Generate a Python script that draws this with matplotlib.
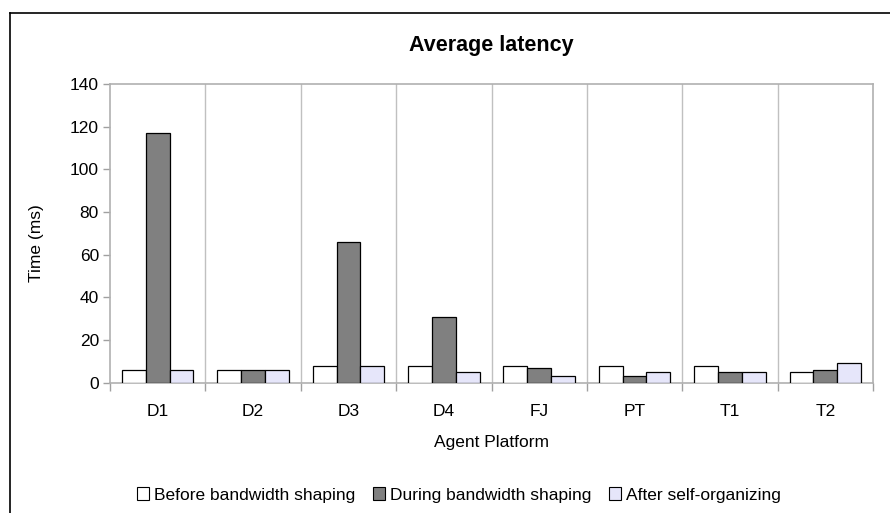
import matplotlib
matplotlib.use("Agg")
import matplotlib.pyplot as plt
import numpy as np
from matplotlib.lines import Line2D

plt.rcParams['font.family'] = ['Liberation Sans', 'DejaVu Sans']

platforms = ["D1", "D2", "D3", "D4", "FJ", "PT", "T1", "T2"]
before = [6, 6, 8, 8, 8, 8, 8, 5]
during = [117, 6, 66, 31, 7, 3, 5, 6]
after = [6, 6, 8, 5, 3, 5, 5, 9]
series_names = ["Before bandwidth shaping", "During bandwidth shaping", "After self-organizing"]
series_colors = ["#FFFFFF", "#808080", "#E6E6FA"]
y_ticks = [0, 20, 40, 60, 80, 100, 120, 140]

W, H = 890, 513
FS = 12.5
fig = plt.figure(figsize=(W / 100, H / 100), dpi=100)
ax = fig.add_axes([110 / W, 1 - 382.7 / H, (873 - 110) / W, (382.7 - 84) / H])

x = np.arange(len(platforms))
bw = 0.25
for i, (vals, col, name) in enumerate(zip([before, during, after], series_colors, series_names)):
    ax.bar(x + (i - 1) * bw, vals, width=bw, color=col, edgecolor="black",
           linewidth=0.9, label=name, zorder=3)

ax.set_xlim(-0.5, len(platforms) - 0.5)
ax.set_ylim(0, 140)
ax.set_yticks(y_ticks)
ax.set_yticklabels([str(t) for t in y_ticks], fontsize=FS)

# category separators: minor ticks on the axis plus vertical grid lines
bounds = np.arange(-0.5, len(platforms) + 0.5, 1.0)
ax.set_xticks(bounds, minor=True)
ax.set_xticks(x)
ax.set_xticklabels(platforms, fontsize=FS)
ax.tick_params(axis="x", which="major", length=0, pad=15)
ax.tick_params(axis="x", which="minor", length=6, color="#A0A0A0", width=1)
ax.tick_params(axis="y", length=5, color="#A0A0A0", width=1, pad=3)
for b in bounds[1:-1]:
    ax.axvline(b, color="#C0C0C0", linewidth=1, zorder=1)

for s in ax.spines.values():
    s.set_color("#B0B0B0")
    s.set_linewidth(1.2)

ax.set_ylabel("Time (ms)", fontsize=FS, va="center")
ax.yaxis.set_label_coords((36 - 110) / (873 - 110), 0.467)
ax.set_xlabel("Agent Platform", fontsize=FS, va="center")
ax.xaxis.set_label_coords(0.5, -(442 - 382.7) / (382.7 - 84))
fig.text(491.5 / W, 1 - 45 / H, "Average latency", fontsize=15.5, fontweight="bold",
         ha="center", va="center")

leg = fig.legend(loc="center", bbox_to_anchor=(459 / W, 1 - 495 / H), ncol=3,
                 frameon=False, fontsize=FS, handlelength=0.7, handleheight=0.7,
                 handletextpad=0.3, columnspacing=1.0)
for h in leg.legend_handles:
    h.set_linewidth(0.8)

# outer chart frame (top and left edges)
fig.add_artist(Line2D([10 / W, 1], [1 - 12.5 / H, 1 - 12.5 / H], color="black", linewidth=1.2,
                      transform=fig.transFigure))
fig.add_artist(Line2D([10 / W, 10 / W], [0, 1 - 12.5 / H], color="black", linewidth=1.2,
                      transform=fig.transFigure))

fig.savefig("out.png", dpi=100)
